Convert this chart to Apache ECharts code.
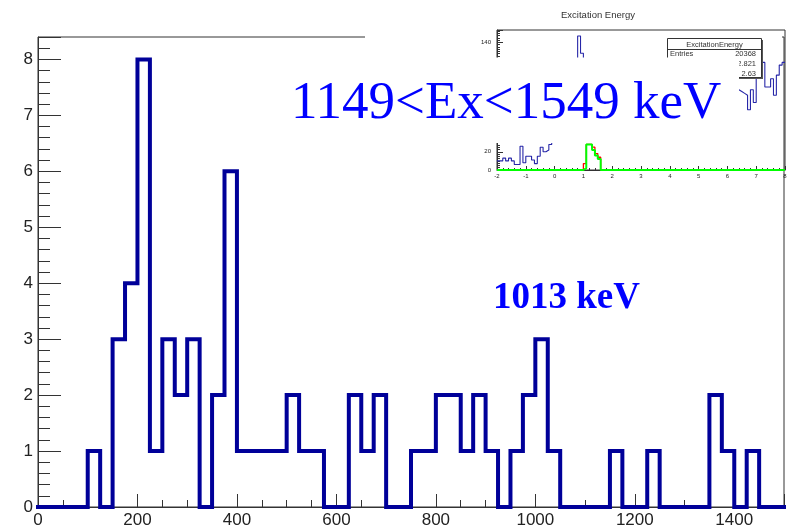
<!DOCTYPE html>
<html>
<head>
<meta charset="utf-8">
<script src="https://cdn.jsdelivr.net/npm/echarts/dist/echarts.min.js"></script>
<style>
  html, body { margin: 0; padding: 0; background: #fff; }
  #chart { width: 792px; height: 531px; }
</style>
</head>
<body>
<div id="chart"></div>
<script>
// ---- Main histogram: counts per 25 keV bin, 0 .. 1500 keV ----
const mainStart = 0;
const mainBinWidth = 25;
const mainCounts = [
  0, 0, 0, 0,   // 0-100
  1, 0, 3, 4,   // 100-200
  8, 1, 3, 2,   // 200-300
  3, 0, 2, 6,   // 300-400
  1, 1, 1, 1,   // 400-500
  2, 1, 1, 0,   // 500-600
  0, 2, 1, 2,   // 600-700
  0, 0, 1, 1,   // 700-800
  2, 2, 1, 2,   // 800-900
  1, 0, 1, 2,   // 900-1000
  3, 1, 0, 0,   // 1000-1100
  0, 0, 1, 0,   // 1100-1200
  0, 1, 0, 0,   // 1200-1300
  0, 0, 2, 1,   // 1300-1400
  0, 1, 0, 0    // 1400-1500
];
const mainXRange = [0, 1500];
const mainYRange = [0, 8.4];

// ---- Inset "Excitation Energy" spectrum: 0.1 MeV bins, -2 .. 8 ----
const insetStart = -2;
const insetBinWidth = 0.1;
const insetBlue = [
  10, 10, 13, 10, 13, 10, 6, 6, 26, 8,
  15, 15, 11, 7, 15, 25, 20, 22, 28, 38,
  45, 52, 60, 72, 85, 96, 108, 118, 147, 128,
  110, 96, 84, 70, 62, 55, 50, 48, 46, 47,
  50, 52, 55, 54, 57, 60, 58, 62, 64, 61,
  66, 68, 70, 67, 72, 74, 71, 76, 78, 75,
  80, 82, 79, 84, 86, 83, 88, 90, 87, 92,
  94, 91, 96, 98, 95, 100, 102, 99, 104, 106,
  103, 108, 92, 88, 86, 84, 82, 66, 88, 74,
  102, 107, 118, 91, 91, 100, 82, 104, 115, 118
];
const insetRed = [
  0, 0, 0, 0, 0, 0, 0, 0, 0, 0,
  0, 0, 0, 0, 0, 0, 0, 0, 0, 0,
  0, 0, 0, 0, 0, 0, 0, 0, 0, 0,
  7, 28, 28, 25, 18, 14, 0, 0, 0, 0,
  0, 0, 0, 0, 0, 0, 0, 0, 0, 0,
  0, 0, 0, 0, 0, 0, 0, 0, 0, 0,
  0, 0, 0, 0, 0, 0, 0, 0, 0, 0,
  0, 0, 0, 0, 0, 0, 0, 0, 0, 0,
  0, 0, 0, 0, 0, 0, 0, 0, 0, 0,
  0, 0, 0, 0, 0, 0, 0, 0, 0, 0
];
const insetGreen = [
  0, 0, 0, 0, 0, 0, 0, 0, 0, 0,
  0, 0, 0, 0, 0, 0, 0, 0, 0, 0,
  0, 0, 0, 0, 0, 0, 0, 0, 0, 0,
  2, 28, 28, 22, 16, 12, 0, 0, 0, 0,
  0, 0, 0, 0, 0, 0, 0, 0, 0, 0,
  0, 0, 0, 0, 0, 0, 0, 0, 0, 0,
  0, 0, 0, 0, 0, 0, 0, 0, 0, 0,
  0, 0, 0, 0, 0, 0, 0, 0, 0, 0,
  0, 0, 0, 0, 0, 0, 0, 0, 0, 0,
  0, 0, 0, 0, 0, 0, 0, 0, 0, 0
];
const insetXRange = [-2, 8];
const insetYRange = [0, 153.5];

const statsTitle = 'ExcitationEnergy';
const statsRows = [['Entries', '20368'], ['Mean', '2.821'], ['RMS', '2.63']];

// Turn bin contents into histogram outline points (left edges + closing right edge)
function stepPoints(start, width, counts) {
  const pts = counts.map((c, i) => [+(start + i * width).toFixed(6), c]);
  pts.push([+(start + counts.length * width).toFixed(6), counts[counts.length - 1]]);
  return pts;
}

const SANS = 'Liberation Sans';
const SERIF = '"Liberation Serif", "Times New Roman", serif';
const AX = '#333';
const plain = v => String(Math.round(v * 1000) / 1000);

// One axis per side: inward major ticks with labels, inward minor ticks
function frameAxis(g, pos, range, o) {
  return {
    type: 'value', gridIndex: g, position: pos, min: range[0], max: range[1], interval: o.interval,
    z: o.z || 0,
    axisLine: { show: true, onZero: false, lineStyle: { color: AX, width: 1 } },
    axisTick: { show: true, inside: true, length: o.major, lineStyle: { color: AX, width: 1 } },
    minorTick: { show: true, splitNumber: o.split, length: o.minor, lineStyle: { color: AX, width: 1 } },
    axisLabel: { show: true, fontSize: o.size, color: '#222', fontFamily: SANS,
      margin: o.margin, showMaxLabel: o.showMax, formatter: plain },
    splitLine: { show: false },
    minorSplitLine: { show: false }
  };
}

const chart = echarts.init(document.getElementById('chart'));

chart.setOption({
  animation: false,
  grid: [
    { left: 38, right: 8, top: 37, bottom: 24, show: true, borderColor: AX, borderWidth: 1, backgroundColor: 'transparent' },
    { left: 497, top: 30, width: 288, height: 140, show: true, borderColor: AX, borderWidth: 1, backgroundColor: 'transparent', z: 6 }
  ],
  xAxis: [
    frameAxis(0, 'bottom', mainXRange, { interval: 200, major: 13, minor: 7, split: 4, size: 17, margin: 5, showMax: false }),
    frameAxis(1, 'bottom', insetXRange, { interval: 1, major: 4, minor: 2, split: 5, size: 6, margin: 3, showMax: true, z: 6 })
  ],
  yAxis: [
    frameAxis(0, 'left', mainYRange, { interval: 1, major: 23, minor: 12, split: 5, size: 17, margin: 5, showMax: false }),
    frameAxis(1, 'left', insetYRange, { interval: 20, major: 6, minor: 3, split: 8, size: 6, margin: 6, showMax: false, z: 6 })
  ],
  series: [
    {
      name: 'counts', type: 'line', xAxisIndex: 0, yAxisIndex: 0, step: 'end',
      symbol: 'none', z: 2,
      lineStyle: { color: '#000099', width: 4, join: 'miter', cap: 'square' },
      data: stepPoints(mainStart, mainBinWidth, mainCounts)
    },
    {
      name: 'ExcitationEnergy', type: 'line', xAxisIndex: 1, yAxisIndex: 1, step: 'end',
      symbol: 'none', z: 7,
      lineStyle: { color: '#2626a8', width: 1.1 },
      data: stepPoints(insetStart, insetBinWidth, insetBlue)
    },
    {
      name: 'gated', type: 'line', xAxisIndex: 1, yAxisIndex: 1, step: 'end',
      symbol: 'none', z: 7,
      lineStyle: { color: '#ff0000', width: 1.3 },
      data: stepPoints(insetStart, insetBinWidth, insetRed)
    },
    {
      name: 'window', type: 'line', xAxisIndex: 1, yAxisIndex: 1, step: 'end',
      symbol: 'none', z: 7,
      lineStyle: { color: '#00ff00', width: 2 },
      data: stepPoints(insetStart, insetBinWidth, insetGreen)
    }
  ],
  graphic: { elements: [
    // white pad behind the inset spectrum
    { type: 'rect', z: 5, silent: true, shape: { x: 365, y: 0, width: 417, height: 185 }, style: { fill: '#fff' } },
    // inset title
    { type: 'text', z: 12, x: 598, y: 15,
      style: { text: 'Excitation Energy', font: '9.5px ' + SANS, fill: '#333', align: 'center', verticalAlign: 'middle' } },
    // statistics box
    { type: 'rect', z: 8, shape: { x: 669, y: 40, width: 94, height: 39 }, style: { fill: '#555' } },
    { type: 'rect', z: 9, shape: { x: 667.5, y: 38.5, width: 94, height: 39 }, style: { fill: '#fff', stroke: '#333', lineWidth: 1 } },
    { type: 'line', z: 10, shape: { x1: 667.5, y1: 49.5, x2: 761.5, y2: 49.5 }, style: { stroke: '#333', lineWidth: 1 } },
    { type: 'text', z: 10, x: 714.5, y: 44.5,
      style: { text: statsTitle, font: '7.5px ' + SANS, fill: '#333', align: 'center', verticalAlign: 'middle' } },
    ...statsRows.flatMap((r, i) => [
      { type: 'text', z: 10, x: 670, y: 54 + i * 9.8,
        style: { text: r[0], font: '7.5px ' + SANS, fill: '#333', align: 'left', verticalAlign: 'middle' } },
      { type: 'text', z: 10, x: 756, y: 54 + i * 9.8,
        style: { text: r[1], font: '7.5px ' + SANS, fill: '#333', align: 'right', verticalAlign: 'middle' } }
    ]),
    // white band behind the energy-window label
    { type: 'rect', z: 11, silent: true, shape: { x: 470, y: 57.5, width: 269, height: 85.5 }, style: { fill: '#fff' } },
    // labels
    { type: 'text', z: 12, x: 291, y: 104,
      style: { text: '1149<Ex<1549 keV', font: 'normal 53px ' + SERIF, fill: '#0000ff', align: 'left', verticalAlign: 'middle' } },
    { type: 'text', z: 12, x: 493, y: 298,
      style: { text: '1013 keV', font: 'bold 37px ' + SERIF, fill: '#0000ff', align: 'left', verticalAlign: 'middle' } }
  ] }
});
</script>
</body>
</html>
